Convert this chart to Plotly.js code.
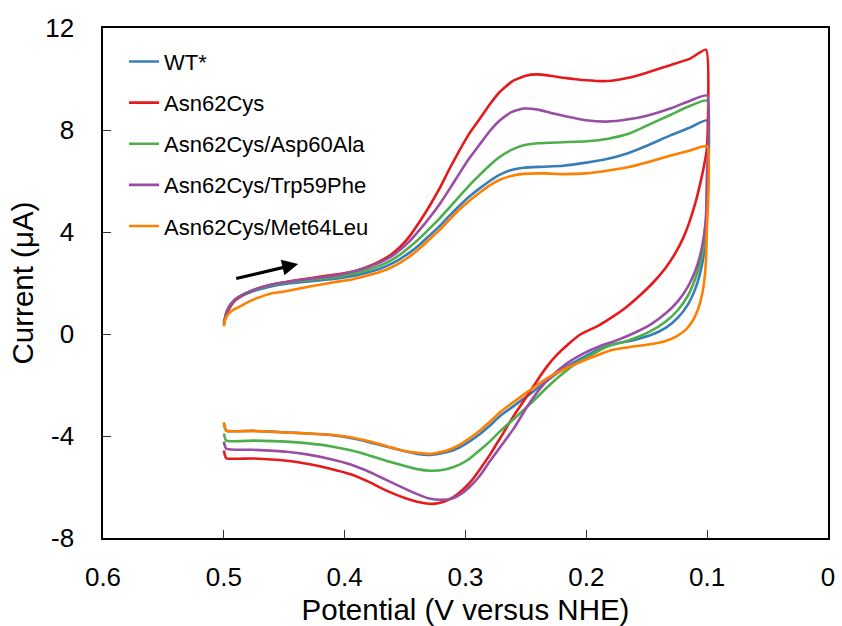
<!DOCTYPE html>
<html>
<head>
<meta charset="utf-8">
<script src="https://cdn.plot.ly/plotly-3.0.1.min.js"></script>
<style>html,body{margin:0;padding:0;background:#fff;}#chart{width:842px;height:626px;}</style>
</head>
<body>
<div id="chart"></div>
<script>
// ---- data (potential in V versus NHE, current in µA) ----
const seriesNames = ["WT*", "Asn62Cys", "Asn62Cys/Asp60Ala", "Asn62Cys/Trp59Phe", "Asn62Cys/Met64Leu"];
const seriesColors = ["#377EB8", "#E41A1C", "#4DAF4A", "#984EA3", "#FF7F00"];

const wtV = [0.500,0.498,0.494,0.488,0.478,0.462,0.451,0.430,0.409,0.393,0.382,0.371,0.362,0.354,0.346,0.338,0.330,0.321,0.313,0.305,0.297,0.288,0.280,0.2715,0.262,0.252,0.235,0.219,0.200,0.183,0.165,0.150,0.130,0.114,0.100,
  0.1003,0.101,0.103,0.106,0.110,0.116,0.124,0.134,0.147,0.162,0.178,0.192,0.205,0.220,0.233,0.246,0.260,0.2715,0.280,0.288,0.297,0.305,0.316,0.329,0.340,0.3515,0.365,0.379,0.395,0.412,0.430,0.448,0.476,0.498,0.500];
const wtI = [0.35,0.80,1.15,1.42,1.64,1.85,1.95,2.06,2.16,2.28,2.40,2.56,2.74,2.95,3.20,3.50,3.85,4.25,4.65,5.03,5.38,5.72,6.00,6.25,6.43,6.52,6.56,6.60,6.72,6.86,7.10,7.38,7.80,8.10,8.37,
  4.70,3.90,3.05,2.35,1.75,1.15,0.65,0.25,-0.05,-0.25,-0.40,-0.65,-0.98,-1.40,-1.85,-2.33,-2.82,-3.22,-3.60,-3.92,-4.22,-4.45,-4.64,-4.74,-4.70,-4.58,-4.42,-4.25,-4.08,-3.96,-3.90,-3.86,-3.80,-3.79,-3.50];

const n62cV = [0.500,0.497,0.492,0.485,0.478,0.462,0.451,0.430,0.409,0.393,0.382,0.371,0.362,0.354,0.346,0.338,0.330,0.321,0.313,0.305,0.297,0.288,0.280,0.2715,0.261,0.250,0.241,0.230,0.219,0.200,0.183,0.165,0.150,0.130,0.114,0.101,
  0.1003,0.103,0.106,0.110,0.115,0.120,0.126,0.134,0.145,0.156,0.167,0.178,0.190,0.205,0.215,0.225,0.233,0.241,0.250,0.260,0.2715,0.280,0.288,0.295,0.302,0.310,0.318,0.327,0.338,0.349,0.365,0.379,0.395,0.412,0.430,0.448,0.476,0.498,0.500];
const n62cI = [0.45,0.85,1.25,1.50,1.68,1.92,2.02,2.18,2.32,2.45,2.62,2.85,3.10,3.42,3.85,4.40,5.00,5.75,6.50,7.20,7.85,8.45,9.00,9.50,9.92,10.13,10.18,10.13,10.05,9.95,9.92,10.05,10.25,10.55,10.80,11.15,
  7.25,6.50,5.85,5.10,4.35,3.75,3.20,2.62,2.00,1.50,1.05,0.68,0.33,-0.02,-0.40,-0.85,-1.30,-1.85,-2.50,-3.20,-4.10,-4.75,-5.30,-5.75,-6.10,-6.40,-6.58,-6.66,-6.60,-6.45,-6.15,-5.82,-5.50,-5.28,-5.10,-4.97,-4.88,-4.87,-4.57];

const d60aV = [0.500,0.498,0.494,0.488,0.478,0.462,0.451,0.430,0.409,0.393,0.382,0.371,0.362,0.354,0.346,0.338,0.330,0.321,0.313,0.305,0.297,0.288,0.280,0.2715,0.262,0.252,0.240,0.219,0.200,0.183,0.165,0.150,0.130,0.114,0.100,
  0.1003,0.101,0.103,0.106,0.110,0.116,0.124,0.134,0.148,0.165,0.183,0.197,0.211,0.222,0.233,0.246,0.260,0.2715,0.280,0.288,0.297,0.305,0.316,0.329,0.340,0.3515,0.365,0.379,0.395,0.412,0.430,0.448,0.476,0.498,0.500];
const d60aI = [0.40,0.85,1.20,1.45,1.68,1.90,2.00,2.12,2.22,2.36,2.50,2.68,2.88,3.12,3.42,3.75,4.12,4.55,4.98,5.40,5.82,6.25,6.62,6.95,7.22,7.40,7.48,7.52,7.56,7.65,7.85,8.17,8.60,8.95,9.15,
  5.30,4.30,3.45,2.75,2.15,1.50,0.95,0.50,0.08,-0.25,-0.50,-0.85,-1.24,-1.65,-2.12,-2.72,-3.33,-3.82,-4.22,-4.55,-4.90,-5.12,-5.30,-5.36,-5.30,-5.16,-4.98,-4.77,-4.56,-4.40,-4.29,-4.22,-4.18,-4.18,-3.90];

const w59fV = [0.500,0.497,0.492,0.485,0.478,0.462,0.451,0.430,0.409,0.393,0.382,0.371,0.362,0.354,0.346,0.338,0.330,0.321,0.313,0.305,0.297,0.288,0.280,0.2715,0.262,0.252,0.240,0.230,0.219,0.200,0.183,0.165,0.150,0.130,0.114,0.100,
  0.1003,0.101,0.103,0.106,0.110,0.116,0.124,0.134,0.146,0.160,0.175,0.189,0.203,0.216,0.228,0.238,0.249,0.260,0.2715,0.280,0.288,0.295,0.303,0.311,0.320,0.330,0.343,0.360,0.379,0.395,0.412,0.430,0.448,0.476,0.498,0.500];
const w59fI = [0.45,0.95,1.30,1.52,1.68,1.92,2.02,2.16,2.28,2.45,2.60,2.80,3.02,3.30,3.65,4.08,4.55,5.12,5.70,6.30,6.88,7.45,7.95,8.38,8.70,8.84,8.80,8.68,8.56,8.38,8.33,8.42,8.56,8.85,9.15,9.35,
  6.00,4.60,3.75,3.05,2.45,1.85,1.30,0.82,0.40,0.05,-0.25,-0.48,-0.78,-1.15,-1.62,-2.12,-2.85,-3.70,-4.45,-5.00,-5.55,-5.92,-6.25,-6.45,-6.50,-6.45,-6.22,-5.85,-5.42,-5.12,-4.90,-4.73,-4.62,-4.54,-4.50,-4.22];

const m64lV = [0.500,0.499,0.496,0.492,0.485,0.478,0.462,0.451,0.430,0.409,0.393,0.382,0.371,0.362,0.354,0.346,0.338,0.330,0.321,0.313,0.305,0.297,0.288,0.280,0.2715,0.262,0.252,0.235,0.219,0.200,0.183,0.165,0.150,0.130,0.114,0.100,
  0.1003,0.101,0.102,0.104,0.107,0.111,0.117,0.125,0.135,0.150,0.165,0.178,0.192,0.205,0.220,0.233,0.246,0.260,0.2715,0.280,0.288,0.297,0.305,0.316,0.329,0.340,0.3515,0.365,0.379,0.395,0.412,0.430,0.448,0.476,0.498,0.500];
const m64lI = [0.30,0.55,0.80,0.95,1.12,1.30,1.58,1.66,1.85,2.03,2.15,2.28,2.43,2.60,2.80,3.05,3.35,3.70,4.10,4.50,4.88,5.22,5.55,5.83,6.05,6.20,6.28,6.30,6.27,6.30,6.40,6.55,6.73,7.00,7.20,7.36,
  4.00,2.90,2.25,1.60,1.05,0.60,0.20,-0.08,-0.28,-0.42,-0.52,-0.62,-0.85,-1.10,-1.42,-1.75,-2.18,-2.66,-3.07,-3.45,-3.78,-4.10,-4.35,-4.58,-4.70,-4.66,-4.58,-4.40,-4.22,-4.05,-3.95,-3.90,-3.86,-3.80,-3.79,-3.46];

const xTicks = [0.6, 0.5, 0.4, 0.3, 0.2, 0.1, 0];
const xTickText = ["0.6", "0.5", "0.4", "0.3", "0.2", "0.1", "0"];
const yTicks = [-8, -4, 0, 4, 8, 12];
const yTickText = ["-8", "-4", "0", "4", "8", "12"];

// scan-direction arrow (data coordinates)
const arrowFrom = [0.491, 2.16];
const arrowTo = [0.4385, 2.75];

const allV = [wtV, n62cV, d60aV, w59fV, m64lV];
const allI = [wtI, n62cI, d60aI, w59fI, m64lI];

const traces = seriesNames.map((name, k) => ({
  type: "scatter",
  mode: "lines",
  name: name,
  legendgroup: "g" + k,
  x: allV[k],
  y: allI[k],
  line: {color: seriesColors[k], width: 2.6, shape: "spline", smoothing: 0.5}
}));

const font = "Liberation Sans, Arial, sans-serif";

const layout = {
  width: 842, height: 626,
  margin: {l: 103, r: 14, t: 28, b: 88},
  paper_bgcolor: "#fff", plot_bgcolor: "#fff",
  font: {family: font, color: "#000"},
  showlegend: true,
  legend: {
    x: 0.029, y: 0.975, xanchor: "left", yanchor: "top",
    font: {family: font, size: 22, color: "#000"},
    tracegroupgap: 9.5, bgcolor: "rgba(0,0,0,0)", traceorder: "grouped"
  },
  xaxis: {
    range: [0.6, 0], tickmode: "array", tickvals: xTicks, ticktext: xTickText,
    ticks: "inside", ticklen: 8, tickwidth: 1, tickcolor: "#333",
    showline: true, linecolor: "#000", linewidth: 1.6, mirror: true,
    showgrid: false, zeroline: false,
    tickfont: {family: font, size: 26, color: "#000"},
    ticklabelstandoff: 15,
    title: {text: "Potential (V versus NHE)", font: {family: font, size: 29.5, color: "#000"}, standoff: 15}
  },
  yaxis: {
    range: [-8, 12], tickmode: "array", tickvals: yTicks, ticktext: yTickText,
    ticks: "inside", ticklen: 8, tickwidth: 1, tickcolor: "#333",
    showline: true, linecolor: "#000", linewidth: 1.6, mirror: true,
    showgrid: false, zeroline: false,
    tickfont: {family: font, size: 26, color: "#000"},
    ticklabelstandoff: 22,
    title: {text: "Current (μA)", font: {family: font, size: 29.5, color: "#000"}, standoff: 3}
  },
  annotations: [{
    x: arrowTo[0], y: arrowTo[1], ax: arrowFrom[0], ay: arrowFrom[1],
    xref: "x", yref: "y", axref: "x", ayref: "y",
    text: "", showarrow: true, arrowhead: 2, arrowsize: 1, arrowwidth: 3.2, arrowcolor: "#000"
  }]
};

Plotly.newPlot("chart", traces, layout, {displayModeBar: false, staticPlot: true});
</script>
</body>
</html>
